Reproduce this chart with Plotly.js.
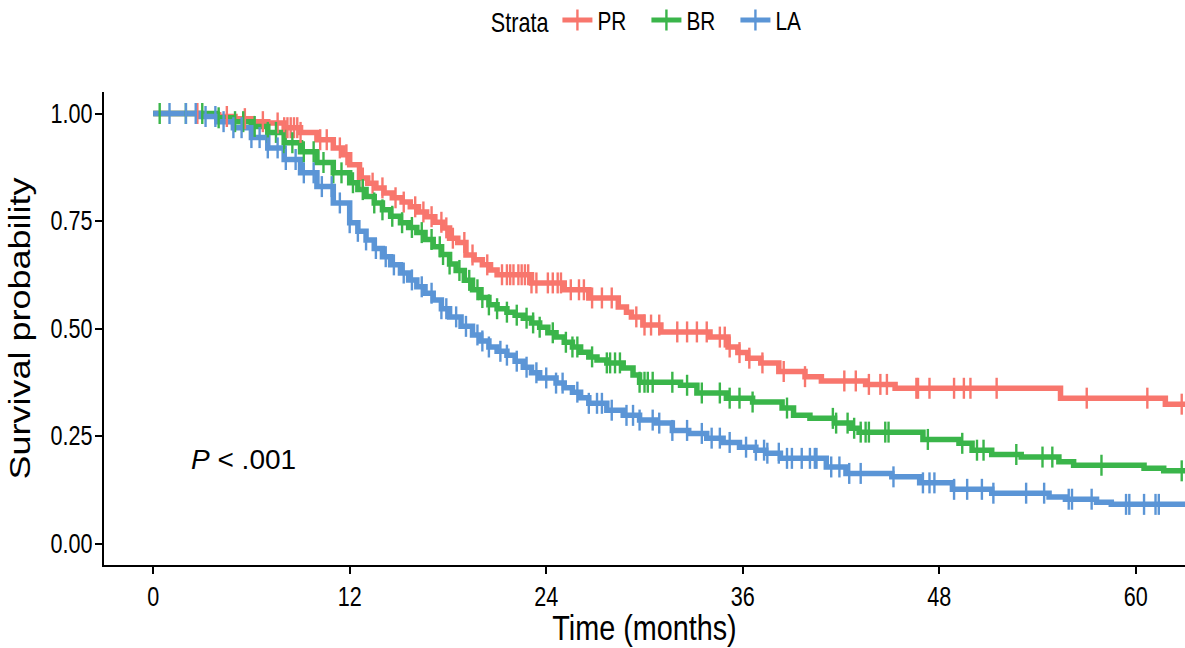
<!DOCTYPE html>
<html>
<head>
<meta charset="utf-8">
<script src="https://cdn.plot.ly/plotly-3.0.1.min.js"></script>
<style>html,body{margin:0;padding:0;background:#fff;}#chart{width:1185px;height:648px;}</style>
</head>
<body>
<div id="chart"></div>
<script>
// ---- Data ----
var strata = ['PR', 'BR', 'LA'];
var colors = ['#F8766D', '#3AB54A', '#5B95D6'];

var prTime = [0, 2.9, 4.0, 5.0, 6.0, 7.0, 8.0, 9.0, 10.0, 11.0, 11.6, 12.0, 12.6, 13.1, 13.6, 14.1, 14.6, 15.2, 15.7, 16.2, 16.7, 17.2, 17.7, 18.1, 18.6, 19.1, 19.6, 20.1, 20.6, 21.0, 23.1, 25.1, 26.6, 28.4, 28.9, 29.2, 29.9, 31.0, 34.0, 35.1, 35.7, 36.3, 37.1, 38.2, 39.8, 40.8, 43.5, 45.3, 55.4, 61.8, 65];
var prSurv = [1.0, 0.997, 0.993, 0.988, 0.981, 0.978, 0.967, 0.956, 0.939, 0.92, 0.904, 0.881, 0.85, 0.838, 0.827, 0.815, 0.804, 0.794, 0.783, 0.771, 0.76, 0.747, 0.734, 0.71, 0.70, 0.671, 0.66, 0.648, 0.636, 0.625, 0.606, 0.59, 0.571, 0.55, 0.538, 0.527, 0.508, 0.492, 0.48, 0.457, 0.444, 0.431, 0.42, 0.40, 0.388, 0.378, 0.37, 0.361, 0.338, 0.324, 0.324];
var prCensor = [2.7, 4.5, 5.6, 6.7, 7.6, 8.0, 8.2, 8.4, 8.6, 8.8, 9.0, 10.2, 10.6, 11.4, 11.8, 12.8, 13.4, 14.0, 14.8, 15.3, 16.0, 16.5, 17.0, 17.6, 17.9, 18.3, 19.0, 19.5, 20.4, 21.3, 21.6, 21.8, 22.0, 22.3, 22.5, 22.7, 22.9, 23.1, 23.4, 24.1, 24.4, 24.7, 24.9, 25.5, 26.0, 26.3, 26.8, 27.4, 28.0, 29.5, 30.0, 30.4, 30.9, 32.0, 32.6, 33.2, 33.8, 34.6, 34.9, 35.2, 35.8, 36.4, 37.2, 38.5, 39.8, 42.2, 42.9, 43.7, 44.4, 44.8, 46.6, 46.7, 47.4, 48.9, 49.5, 49.9, 51.5, 57.0, 60.7, 62.8];

var brTime = [0, 3.9, 4.9, 6.0, 7.0, 8.0, 9.0, 10.0, 11.0, 12.0, 12.5, 13.0, 13.5, 14.0, 14.5, 15.1, 15.6, 16.1, 16.6, 17.1, 17.6, 18.1, 18.5, 19.0, 19.5, 20.0, 20.5, 21.0, 21.6, 22.1, 22.6, 23.1, 23.6, 24.1, 24.6, 25.1, 25.6, 26.1, 26.6, 27.1, 27.7, 28.7, 29.3, 29.7, 32.2, 33.2, 35.0, 36.6, 38.4, 39.1, 40.1, 41.6, 42.6, 43.1, 47.0, 49.2, 50.0, 51.2, 53.0, 55.3, 56.2, 60.5, 61.7, 65];
var brSurv = [1.0, 0.99, 0.981, 0.97, 0.956, 0.932, 0.911, 0.886, 0.862, 0.839, 0.823, 0.807, 0.792, 0.776, 0.761, 0.746, 0.735, 0.723, 0.707, 0.69, 0.672, 0.65, 0.635, 0.612, 0.59, 0.572, 0.555, 0.546, 0.538, 0.531, 0.524, 0.513, 0.503, 0.49, 0.48, 0.468, 0.457, 0.445, 0.434, 0.427, 0.42, 0.408, 0.392, 0.375, 0.368, 0.35, 0.338, 0.329, 0.315, 0.298, 0.291, 0.28, 0.268, 0.259, 0.242, 0.233, 0.217, 0.207, 0.201, 0.19, 0.182, 0.175, 0.169, 0.169];
var brCensor = [0.4, 2.0, 3.0, 4.0, 5.0, 5.5, 6.2, 7.0, 7.5, 8.0, 8.5, 9.2, 9.8, 10.4, 11.0, 11.5, 12.2, 12.8, 13.5, 14.0, 14.6, 15.2, 15.8, 16.4, 17.0, 17.5, 17.7, 18.1, 18.7, 19.3, 19.8, 20.1, 20.5, 21.0, 21.6, 22.2, 22.8, 23.2, 23.6, 24.4, 25.2, 25.6, 25.9, 26.8, 27.7, 27.9, 28.2, 28.5, 29.7, 30.0, 30.2, 30.5, 31.7, 32.6, 33.5, 34.6, 35.2, 35.8, 36.6, 38.7, 41.5, 41.7, 42.4, 42.8, 43.2, 43.5, 43.7, 44.7, 44.9, 47.3, 49.4, 50.3, 50.7, 52.7, 54.3, 54.9, 57.9, 62.8];

var laTime = [0, 2.9, 3.9, 4.9, 6.0, 7.0, 8.0, 9.0, 10.0, 11.0, 12.0, 12.5, 13.0, 13.5, 14.0, 14.5, 15.1, 15.6, 16.1, 16.6, 17.1, 17.6, 18.1, 18.8, 19.5, 20.0, 20.5, 21.0, 21.6, 22.1, 22.6, 23.1, 23.6, 24.6, 25.1, 25.6, 26.1, 26.6, 27.7, 28.7, 29.7, 30.7, 31.7, 32.7, 33.8, 34.8, 35.8, 36.8, 37.4, 38.3, 41.1, 42.3, 45.1, 46.8, 48.8, 51.2, 54.7, 55.7, 57.6, 58.5, 65];
var laSurv = [1.0, 0.993, 0.981, 0.967, 0.944, 0.92, 0.893, 0.862, 0.83, 0.792, 0.746, 0.726, 0.706, 0.686, 0.667, 0.648, 0.629, 0.613, 0.597, 0.582, 0.566, 0.546, 0.527, 0.505, 0.485, 0.471, 0.457, 0.447, 0.438, 0.424, 0.41, 0.397, 0.385, 0.373, 0.362, 0.352, 0.339, 0.326, 0.31, 0.298, 0.287, 0.28, 0.263, 0.256, 0.245, 0.235, 0.224, 0.217, 0.21, 0.198, 0.178, 0.163, 0.155, 0.141, 0.126, 0.117, 0.108, 0.103, 0.096, 0.091, 0.091];
var laCensor = [1.0, 2.0, 2.6, 3.2, 3.8, 4.3, 4.9, 5.4, 6.0, 6.5, 7.0, 7.6, 8.1, 8.7, 9.2, 9.8, 10.3, 10.9, 11.4, 12.0, 12.5, 13.0, 13.6, 14.2, 14.7, 15.3, 15.8, 16.4, 17.0, 17.6, 17.9, 18.5, 19.1, 19.8, 20.1, 20.5, 21.2, 21.6, 22.2, 22.8, 23.4, 24.0, 24.6, 25.0, 25.9, 26.6, 27.1, 27.4, 28.0, 28.9, 29.3, 29.7, 30.5, 30.9, 31.7, 32.6, 33.5, 34.1, 34.6, 35.2, 36.2, 36.8, 37.3, 37.5, 38.2, 38.7, 39.0, 39.6, 40.1, 40.4, 40.5, 41.4, 41.9, 42.5, 43.2, 45.2, 47.0, 47.4, 47.7, 48.9, 49.7, 50.6, 51.3, 53.3, 54.4, 55.9, 56.1, 57.3, 59.4, 59.6, 60.5, 61.2, 61.4];

var xTicks = [0, 12, 24, 36, 48, 60];
var yTicks = [0, 0.25, 0.5, 0.75, 1];
var yTickText = ['0.00', '0.25', '0.50', '0.75', '1.00'];
var pText = '<i>P</i> < .001';

// ---- Build traces ----
function survAt(times, surv, t) {
  var s = surv[0];
  for (var i = 0; i < times.length; i++) { if (times[i] <= t) s = surv[i]; else break; }
  return s;
}
var FN = '"Liberation Sans", Arial, Helvetica, sans-serif';
var series = [[prTime, prSurv, prCensor], [brTime, brSurv, brCensor], [laTime, laSurv, laCensor]];
var traces = [];
series.forEach(function (d, k) {
  traces.push({
    x: d[0], y: d[1], type: 'scatter', mode: 'lines', line: {shape: 'hv', color: colors[k], width: 5.5},
    name: strata[k], legendgroup: strata[k], showlegend: false, hoverinfo: 'skip'
  });
});
series.forEach(function (d, k) {
  traces.push({
    x: d[2], y: d[2].map(function (t) { return survAt(d[0], d[1], t); }),
    type: 'scatter', mode: 'markers',
    marker: {symbol: 'line-ns-open', size: 15, color: colors[k], line: {color: colors[k], width: 2.4}},
    name: strata[k], legendgroup: strata[k], showlegend: false, hoverinfo: 'skip'
  });
});
series.forEach(function (d, k) {
  traces.push({
    x: [null], y: [null], type: 'scatter', mode: 'lines+markers',
    line: {color: colors[k], width: 5},
    marker: {symbol: 'line-ns-open', size: 15, color: colors[k], line: {color: colors[k], width: 2.4}},
    name: strata[k], legendgroup: strata[k], showlegend: true
  });
});

var layout = {
  width: 1185, height: 648,
  margin: {l: 104, r: 0, t: 92, b: 83, autoexpand: false},
  paper_bgcolor: '#ffffff', plot_bgcolor: '#ffffff',
  font: {family: FN, color: '#000000', size: 26},
  showlegend: true,
  legend: {
    orientation: 'h', x: 0.505, xanchor: 'center', y: 1.152, yanchor: 'middle',
    title: {text: 'Strata', side: 'left', font: {size: 27, family: FN}},
    font: {size: 26, family: FN}, bgcolor: 'rgba(0,0,0,0)', itemwidth: 30,
    entrywidth: 44, entrywidthmode: 'pixels'
  },
  xaxis: {
    range: [-3, 63], tickvals: xTicks, ticktext: xTicks.map(String),
    ticks: 'outside', ticklen: 7, tickwidth: 2, tickcolor: '#000',
    showline: true, linecolor: '#000', linewidth: 2,
    showgrid: false, zeroline: false,
    tickfont: {size: 27, family: FN},
    title: {text: 'Time (months)', font: {size: 36, family: FN}, standoff: 2},
    automargin: false
  },
  yaxis: {
    range: [-0.05, 1.05], tickvals: yTicks, ticktext: yTickText,
    ticks: 'outside', ticklen: 7, tickwidth: 2, tickcolor: '#000',
    ticklabelstandoff: -3,
    showline: true, linecolor: '#000', linewidth: 2,
    showgrid: false, zeroline: false,
    tickfont: {size: 27, family: FN},
    title: {text: 'Survival probability', font: {size: 36, family: FN}, standoff: 9},
    automargin: false
  },
  annotations: [{
    x: 2.2, y: 0.195, xref: 'x', yref: 'y', xanchor: 'left', yanchor: 'middle',
    text: pText, showarrow: false, font: {size: 28, family: FN, color: '#000'}
  }]
};

// The reference's lettering is condensed horizontally; narrow the axis/legend texts in place.
function condense(gd) {
  var k = 0.8;
  function squeezeX(el, ax) {
    var old = el.getAttribute('transform') || '';
    el.setAttribute('transform', old + ' translate(' + ax + ',0) scale(' + k + ',1) translate(' + (-ax) + ',0)');
  }
  gd.querySelectorAll('g.xtick text, g.ytick text, text.legendtext, text.xtitle').forEach(function (el) {
    squeezeX(el, parseFloat(el.getAttribute('x')) || 0);
  });
  gd.querySelectorAll('text.legendtitletext').forEach(function (el) {
    var x0 = parseFloat(el.getAttribute('x')) || 0;
    squeezeX(el, x0 + el.getComputedTextLength());
  });
  gd.querySelectorAll('text.ytitle').forEach(function (el) {
    var bb = el.getBBox();
    var cy = bb.y + bb.height / 2;
    var old = el.getAttribute('transform') || '';
    el.setAttribute('transform', old + ' translate(0,' + cy + ') scale(1,' + k + ') translate(0,' + (-cy) + ')');
  });
}

Plotly.newPlot('chart', traces, layout, {displayModeBar: false, staticPlot: true}).then(condense);
</script>
</body>
</html>
